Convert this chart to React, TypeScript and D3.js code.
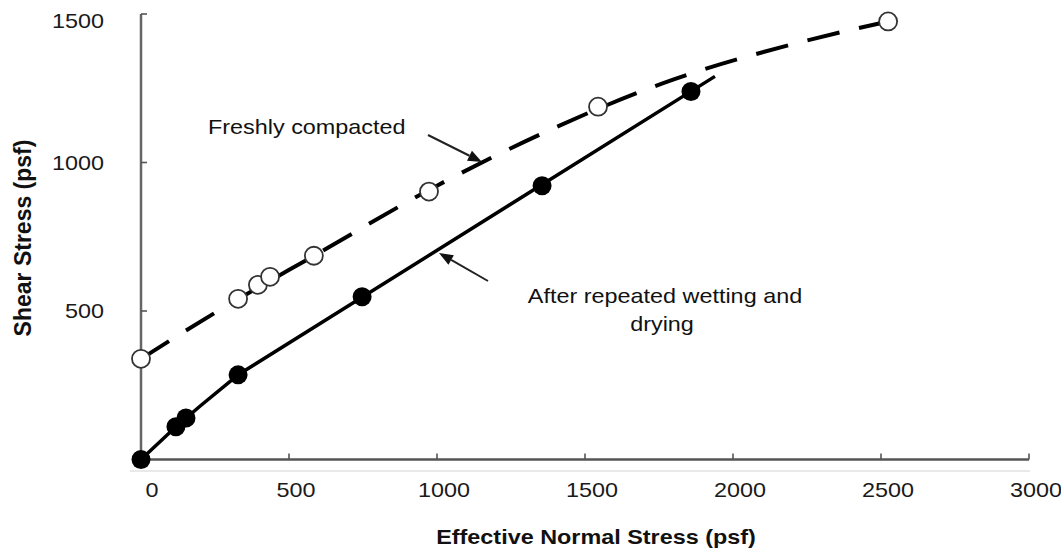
import React from "react";
import * as d3 from "d3";

// Direct shear test results: shear stress vs effective normal stress (psf)
const freshNormal = [0, 328, 395, 436, 584, 973, 1544, 2524];
const freshShear = [339, 541, 588, 615, 686, 902, 1188, 1475];

const wetDryNormal = [0, 118, 152, 328, 747, 1355, 1858];
const wetDryShear = [0, 110, 140, 285, 548, 922, 1239];

// Fitted strength envelopes
const freshFitNormal = [0, 250, 600, 1000, 1400, 1800, 2200, 2524];
const freshFitShear = [339, 494, 695, 922, 1118, 1280, 1398, 1475];

const wetDryFitNormal = [0, 118, 200, 328, 1939];
const wetDryFitShear = [0, 110, 180, 285, 1290];

const xTicks = [0, 500, 1000, 1500, 2000, 2500, 3000];
const yTicks = [500, 1000, 1500];

const W = 1061;
const H = 550;
const SX = 1.17; // horizontal text stretch
const FONT = "Arial, 'Liberation Sans', sans-serif";

const x = d3.scaleLinear().domain([0, 3000]).range([141, 1029]);
const y = d3.scaleLinear().domain([0, 1500]).range([459.5, 14]);

const zip = (a: number[], b: number[]) => a.map((v, i) => [v, b[i]] as [number, number]);

const smoothLine = d3
  .line<[number, number]>()
  .x((d) => x(d[0]))
  .y((d) => y(d[1]))
  .curve(d3.curveMonotoneX);

const straightLine = d3
  .line<[number, number]>()
  .x((d) => x(d[0]))
  .y((d) => y(d[1]))
  .curve(d3.curveLinear);

function SText(props: {
  x: number;
  y: number;
  anchor?: string;
  size?: number;
  weight?: string | number;
  fill?: string;
  children: React.ReactNode;
}) {
  const { anchor = "start", size = 20, weight = "normal", fill = "#111" } = props;
  return (
    <text
      transform={`translate(${props.x},${props.y}) scale(${SX},1)`}
      textAnchor={anchor}
      fontSize={size}
      fontWeight={weight}
      fill={fill}
      fontFamily={FONT}
    >
      {props.children}
    </text>
  );
}

function Arrow({ x1, y1, x2, y2 }: { x1: number; y1: number; x2: number; y2: number }) {
  const ang = Math.atan2(y2 - y1, x2 - x1);
  const len = 14;
  const half = 5.5;
  const bx = x2 - len * Math.cos(ang);
  const by = y2 - len * Math.sin(ang);
  const px = -Math.sin(ang) * half;
  const py = Math.cos(ang) * half;
  return (
    <g>
      <line x1={x1} y1={y1} x2={bx} y2={by} stroke="#222" strokeWidth={2} />
      <path d={`M${x2},${y2} L${bx + px},${by + py} L${bx - px},${by - py} Z`} fill="#111" />
    </g>
  );
}

export default function App() {
  const fresh = zip(freshNormal, freshShear);
  const wetDry = zip(wetDryNormal, wetDryShear);
  const freshFit = zip(freshFitNormal, freshFitShear);
  const wetDryFit = zip(wetDryFitNormal, wetDryFitShear);

  const y0 = y(0);
  const x0 = x(0);

  return (
    <div style={{ position: "absolute", left: 0, top: 0 }}>
      <svg width={W} height={H} style={{ display: "block", background: "#fff" }}>
        {/* faint frame line under the x axis */}
        <line x1={130} x2={1030} y1={471} y2={471} stroke="#e2e2e2" strokeWidth={1.5} />

        {/* axes */}
        <line x1={x0} x2={x(3000)} y1={y0} y2={y0} stroke="#555" strokeWidth={2.5} />
        <line x1={x0} x2={x0} y1={y(1500)} y2={y0} stroke="#666" strokeWidth={2.5} />

        {xTicks.map((t) => (
          <g key={`xt${t}`}>
            {t > 0 && (
              <line x1={x(t)} x2={x(t)} y1={y0} y2={y0 - 6} stroke="#555" strokeWidth={1.6} />
            )}
            <SText x={x(t) + (t === 0 ? 11 : 7)} y={497} anchor="middle" size={20} fill="#1a1a1a">
              {t}
            </SText>
          </g>
        ))}
        {yTicks.map((t) => (
          <g key={`yt${t}`}>
            <line x1={x0} x2={x0 + 6} y1={y(t)} y2={y(t)} stroke="#555" strokeWidth={1.6} />
            <SText x={104} y={Math.max(y(t), 21) + 7} anchor="end" size={20} fill="#1a1a1a">
              {t}
            </SText>
          </g>
        ))}

        {/* axis titles */}
        <SText x={596} y={544} anchor="middle" size={20} weight="bold" fill="#111">
          Effective Normal Stress (psf)
        </SText>
        <text
          transform={`translate(31,238) rotate(-90)`}
          textAnchor="middle"
          fontSize={23}
          fontWeight="bold"
          fill="#111"
          fontFamily={FONT}
        >
          Shear Stress (psf)
        </text>

        {/* strength envelopes */}
        <path
          d={smoothLine(freshFit) ?? ""}
          fill="none"
          stroke="#000"
          strokeWidth={4}
          strokeDasharray="33,20"
        />
        <path
          d={straightLine(wetDryFit) ?? ""}
          fill="none"
          stroke="#000"
          strokeWidth={3.5}
          strokeLinejoin="round"
        />

        {/* test points */}
        {fresh.map((d, i) => (
          <circle
            key={`f${i}`}
            cx={x(d[0])}
            cy={y(d[1])}
            r={9}
            fill="#fff"
            stroke="#333"
            strokeWidth={1.8}
          />
        ))}
        {wetDry.map((d, i) => (
          <circle key={`w${i}`} cx={x(d[0])} cy={y(d[1])} r={9.5} fill="#000" />
        ))}

        {/* annotations */}
        <SText x={208} y={134} size={20} fill="#111">
          Freshly compacted
        </SText>
        <Arrow x1={428} y1={135} x2={482} y2={162} />

        <SText x={665} y={303} anchor="middle" size={20} fill="#111">
          After repeated wetting and
        </SText>
        <SText x={662} y={331} anchor="middle" size={20} fill="#111">
          drying
        </SText>
        <Arrow x1={488} y1={281} x2={439} y2={253} />
      </svg>
    </div>
  );
}
